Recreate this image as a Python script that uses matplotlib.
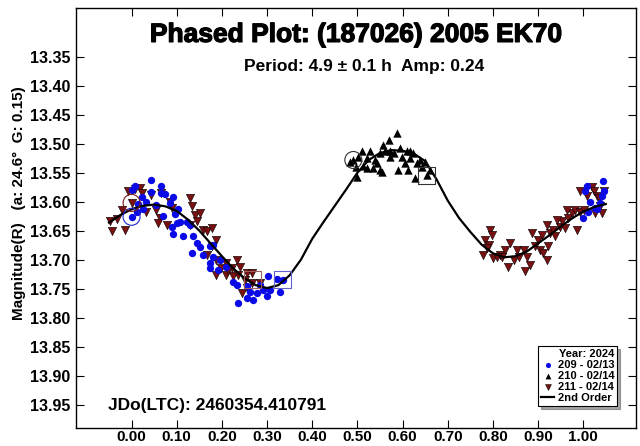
import numpy as np
import matplotlib
matplotlib.use('Agg')
import matplotlib.pyplot as plt
import matplotlib.patheffects as pe

plt.rcParams['font.family'] = ['Liberation Sans', 'DejaVu Sans']
plt.rcParams['font.weight'] = 'bold'

# session 209 - 02/13 (blue circles)
s209_phase = [0.043, 0.008, 0.065, 0.000, 0.066, 0.044, 0.074, 0.092, 0.022, 0.033,
              0.014, 0.025, 0.011, 0.000, 0.085, 0.103, 0.055, 0.069, 0.096, 0.107,
              0.122, 0.089, 0.100, 0.129, 0.092, 0.114, 0.136, 0.144, 0.133, 0.151,
              0.173, 0.180, 0.158, 0.180, 0.173, 0.196, 0.173, 0.191, 0.210, 0.224,
              0.233, 0.255, 0.262, 0.277, 0.269, 0.236, 0.255, 0.291, 0.299, 0.306,
              0.302, 0.321, 0.335, 0.329, 0.284,
              1.044, 1.008, 1.004, 1.045, 1.041, 1.015, 1.038, 1.027, 1.011, 1.030, 1.000]
s209_mag = [13.562, 13.573, 13.573, 13.580, 13.585, 13.584, 13.587, 13.592, 13.592, 13.600,
            13.604, 13.612, 13.618, 13.626, 13.603, 13.612, 13.605, 13.625, 13.622, 13.635,
            13.635, 13.643, 13.637, 13.640, 13.655, 13.659, 13.660, 13.671, 13.688, 13.679,
            13.677, 13.674, 13.692, 13.695, 13.705, 13.700, 13.714, 13.717, 13.712, 13.738,
            13.743, 13.746, 13.755, 13.757, 13.769, 13.774, 13.766, 13.752, 13.763, 13.752,
            13.729, 13.733, 13.735, 13.755, 13.743,
            13.564, 13.573, 13.582, 13.582, 13.591, 13.600, 13.602, 13.611, 13.617, 13.612, 13.628]

# session 210 - 02/14 (black triangles)
s210_phase = [0.587, 0.557, 0.569, 0.528, 0.510, 0.491, 0.502, 0.521, 0.513, 0.543,
              0.550, 0.535, 0.521, 0.499, 0.554, 0.580, 0.572, 0.594, 0.598, 0.609,
              0.617, 0.624, 0.617, 0.606, 0.591, 0.613, 0.632, 0.639, 0.650, 0.628,
              0.654, 0.572, 0.561, 0.550, 0.484, 0.496, 0.538, 0.643, 0.660]
s210_mag = [13.481, 13.502, 13.493, 13.513, 13.513, 13.528, 13.522, 13.525, 13.539, 13.533,
            13.545, 13.542, 13.542, 13.557, 13.548, 13.516, 13.522, 13.508, 13.522, 13.513,
            13.513, 13.516, 13.525, 13.533, 13.545, 13.545, 13.533, 13.528, 13.531, 13.559,
            13.554, 13.513, 13.513, 13.516, 13.532, 13.540, 13.528, 13.540, 13.545]

# session 211 - 02/14 (dark red triangles down)
s211_phase = [-0.048, -0.044, -0.033, -0.022, -0.015, -0.008, 0.007, 0.000, 0.018, 0.022,
              0.033, 0.044, 0.055, 0.063, 0.059, 0.066, 0.085, 0.089, 0.078, 0.129,
              0.133, 0.140, 0.151, 0.144, 0.129, 0.159, 0.166, 0.177, 0.188, 0.177,
              0.166, 0.188, 0.210, 0.233, 0.222, 0.240, 0.236, 0.225, 0.210, 0.188,
              0.255, 0.266, 0.251, 0.266, 0.255, 0.244, 0.284, 0.214, 0.199,
              0.794, 0.798, 0.783, 0.791, 0.779, 0.801, 0.816, 0.827, 0.838, 0.820,
              0.834, 0.846, 0.853, 0.857, 0.868, 0.875, 0.883, 0.871, 0.886, 0.894,
              0.901, 0.908, 0.905, 0.912, 0.920, 0.923, 0.920, 0.927, 0.934, 0.938,
              0.949, 0.953, 0.960, 0.967, 0.975, 0.982, 0.986, 0.993, 0.993, 1.001,
              1.019, 1.023, 1.030, 1.027, 1.034, 1.041, 1.047, 1.038, 1.008, 0.964,
              0.942, 0.787, 0.809]
s211_mag = [13.634, 13.651, 13.630, 13.614, 13.649, 13.582, 13.578, 13.602, 13.577, 13.585,
            13.617, 13.588, 13.614, 13.628, 13.637, 13.585, 13.600, 13.611, 13.640, 13.594,
            13.608, 13.623, 13.620, 13.634, 13.640, 13.649, 13.651, 13.646, 13.666, 13.677,
            13.692, 13.700, 13.706, 13.700, 13.715, 13.712, 13.726, 13.729, 13.726, 13.726,
            13.723, 13.723, 13.735, 13.741, 13.749, 13.758, 13.741, 13.718, 13.715,
            13.649, 13.657, 13.666, 13.674, 13.692, 13.697, 13.692, 13.683, 13.671, 13.695,
            13.712, 13.700, 13.683, 13.695, 13.683, 13.695, 13.709, 13.720, 13.654, 13.677,
            13.666, 13.657, 13.683, 13.689, 13.700, 13.677, 13.640, 13.654, 13.649, 13.660,
            13.643, 13.634, 13.646, 13.628, 13.620, 13.614, 13.649, 13.617, 13.582, 13.614,
            13.574, 13.582, 13.591, 13.620, 13.594, 13.620, 13.582, 13.608, 13.591, 13.614,
            13.631, 13.680, 13.695]

# 2nd order fit
fit_phase = [-0.05, -0.025, 0.00, 0.025, 0.05, 0.075, 0.10, 0.125, 0.15, 0.175, 0.20,
             0.225, 0.25, 0.275, 0.30, 0.325, 0.35, 0.375, 0.40, 0.425, 0.45, 0.475,
             0.50, 0.525, 0.55, 0.575, 0.60, 0.625, 0.65, 0.675, 0.70, 0.725, 0.75,
             0.775, 0.80, 0.825, 0.85, 0.875, 0.90, 0.925, 0.95, 0.975, 1.00, 1.025, 1.05]
fit_mag = [13.636, 13.623, 13.613, 13.607, 13.605, 13.608, 13.616, 13.631, 13.650, 13.672,
           13.694, 13.715, 13.732, 13.744, 13.749, 13.744, 13.727, 13.700, 13.664, 13.635,
           13.607, 13.579, 13.550, 13.528, 13.516, 13.511, 13.512, 13.517, 13.530, 13.561,
           13.598, 13.628, 13.652, 13.674, 13.689, 13.696, 13.694, 13.686, 13.672, 13.658,
           13.643, 13.629, 13.617, 13.609, 13.604]

# first / last observation markers of each session
start_phase = [0.000, 0.000, 0.491]
start_mag = [13.626, 13.602, 13.528]
start_col = ['#2020d0', '#7a1a1a', '#333333']
end_phase = [0.335, 0.268, 0.654]
end_mag = [13.735, 13.735, 13.554]
end_col = ['#6060d0', '#a06060', '#333333']

xticks = [0.0, 0.1, 0.2, 0.3, 0.4, 0.5, 0.6, 0.7, 0.8, 0.9, 1.0]
yticks = [13.35, 13.40, 13.45, 13.50, 13.55, 13.60, 13.65, 13.70, 13.75, 13.80, 13.85, 13.90, 13.95]

fig = plt.figure(figsize=(6.4, 4.46), dpi=100)
ax = fig.add_axes([0.1188, 0.041, 0.875, 0.942])

ax.scatter(s209_phase, s209_mag, s=28, marker='o', color='#0a0ae6', linewidths=0, zorder=3,
           label='209 - 02/13')
ax.scatter(s210_phase, s210_mag, s=36, marker='^', color='black', linewidths=0, zorder=3,
           label='210 - 02/14')
ax.scatter(s211_phase, s211_mag, s=36, marker='v', color='#7a1010', edgecolors='black',
           linewidths=0.4, zorder=2, label='211 - 02/14')
ax.plot(fit_phase, fit_mag, color='black', lw=1.6, zorder=4, label='2nd Order')

ax.scatter(start_phase, start_mag, s=150, marker='o', facecolors='none', edgecolors=start_col,
           linewidths=0.8, zorder=5)
ax.scatter(end_phase, end_mag, s=150, marker='s', facecolors='none', edgecolors=end_col,
           linewidths=0.8, zorder=5)

ax.set_xlim(-0.123, 1.117)
ax.set_ylim(13.99, 13.265)
ax.set_xticks(xticks)
ax.set_xticklabels(['%.2f' % v for v in xticks])
ax.set_yticks(yticks)
ax.set_yticklabels(['%.2f' % v for v in yticks])
ax.tick_params(direction='in', length=6, width=0.8, labelsize=11.5, top=True, right=True,
               pad=4)
ax.tick_params(axis='x', labelsize=11, pad=2)
for sp in ax.spines.values():
    sp.set_linewidth(1.0)

ax.set_ylabel('Magnitude(R)   (a: 24.6°  G: 0.15)', fontsize=11, fontweight='bold')
ax.yaxis.set_label_coords(-0.09, 0.535)

thick = [pe.withStroke(linewidth=0.9, foreground='black')]
ax.text(0.5, 0.935, 'Phased Plot: (187026) 2005 EK70', transform=ax.transAxes,
        ha='center', va='center', fontsize=19, fontweight='bold', path_effects=thick)
ax.text(0.515, 0.859, 'Period: 4.9 \u00b1 0.1 h  Amp: 0.24', transform=ax.transAxes,
        ha='center', va='center', fontsize=12.5, fontweight='bold')
ax.text(0.057, 0.054, 'JDo(LTC): 2460354.410791', transform=ax.transAxes,
        ha='left', va='center', fontsize=12.5, fontweight='bold')

leg = ax.legend(loc='lower right', bbox_to_anchor=(0.966, 0.052), borderaxespad=0,
                title='Year: 2024', fontsize=8, title_fontproperties={'weight': 'bold', 'size': 8},
                frameon=True, fancybox=False, shadow=True, edgecolor='black',
                handlelength=1.2, handletextpad=0.3, borderpad=0.25, labelspacing=0.1,
                markerscale=0.7, alignment='right')
leg.get_frame().set_linewidth(0.8)

fig.savefig('out.png', dpi=100)
